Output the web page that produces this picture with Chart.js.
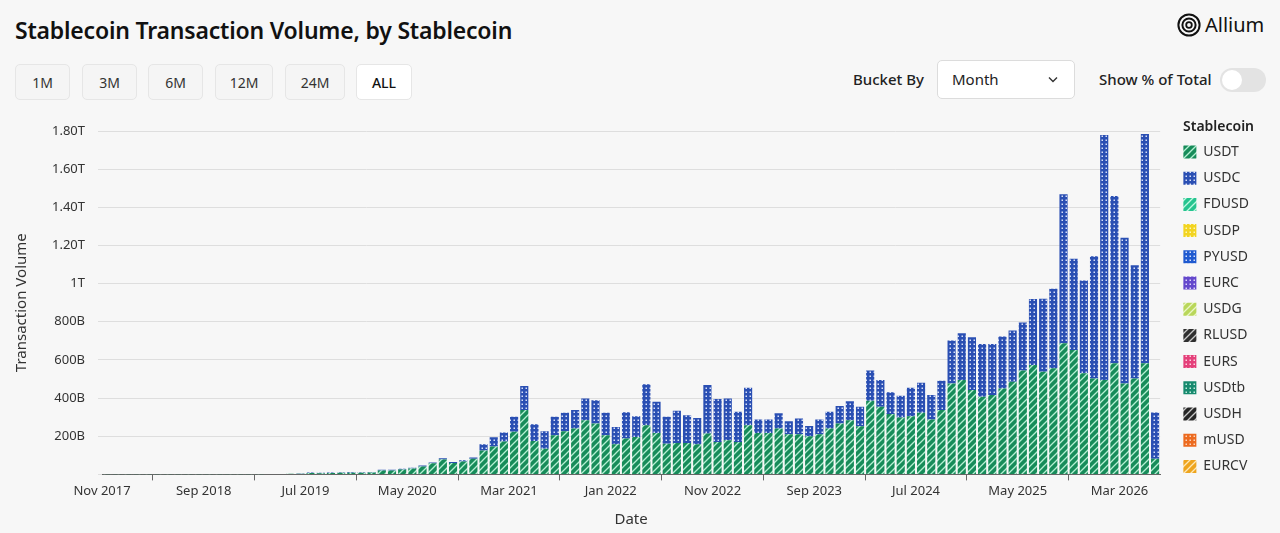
<!DOCTYPE html>
<html>
<head>
<meta charset="utf-8">
<script src="https://cdn.jsdelivr.net/npm/chart.js@4.4.1/dist/chart.umd.min.js"></script>
<style>
    body { margin: 0; background: #f7f7f7; font-family: "Noto Sans", sans-serif; color: #111; width: 1280px; height: 533px; overflow: hidden; position: relative; }
    .title { position: absolute; left: 15px; top: 14px; font-size: 23px; font-weight: 600; letter-spacing: -0.2px; }
    .btn { position: absolute; top: 64px; height: 36px; line-height: 36px; text-align: center; font-size: 14px; color: #333; background: #f5f5f5; border: 1px solid #e6e6e6; border-radius: 5px; box-sizing: border-box; }
    .btn.active { background: #fff; color: #111; font-weight: 500; }
    .logo { position: absolute; left: 1177px; top: 11px; display: flex; align-items: center; font-size: 20px; }
    .logo svg { margin-right: 4px; }
    .lbl { position: absolute; top: 69px; font-size: 15px; font-weight: 500; color: #222; }
    .select { position: absolute; left: 937px; top: 60px; width: 138px; height: 39px; background: #fff; border: 1px solid #dcdcdc; border-radius: 5px; box-sizing: border-box; font-size: 15px; line-height: 37px; padding-left: 14px; color: #222; }
    .select svg { position: absolute; right: 16px; top: 15px; }
    .toggle { position: absolute; left: 1220px; top: 68px; width: 46px; height: 24px; border-radius: 12px; background: #e3e3e3; }
    .toggle .knob { position: absolute; left: 2px; top: 2px; width: 20px; height: 20px; border-radius: 10px; background: #fff; }
    .legend-title { position: absolute; left: 1183px; top: 116px; font-size: 14px; font-weight: 600; color: #222; }
    #wrap { position: absolute; left: 0; top: 110px; width: 1280px; height: 423px; }
</style>
</head>
<body>
<div class="title">Stablecoin Transaction Volume, by Stablecoin</div>
<div class="btn" style="left:15px;width:55px">1M</div>
<div class="btn" style="left:82px;width:55px">3M</div>
<div class="btn" style="left:148px;width:55px">6M</div>
<div class="btn" style="left:215px;width:58px">12M</div>
<div class="btn" style="left:285px;width:60px">24M</div>
<div class="btn active" style="left:356px;width:56px">ALL</div>

<div class="logo">
    <svg width="24" height="24" viewBox="0 0 24 24">
        <circle cx="12" cy="12" r="10.6" fill="none" stroke="#111" stroke-width="2"/>
        <circle cx="12" cy="12" r="6.6" fill="none" stroke="#111" stroke-width="2"/>
        <circle cx="12" cy="12" r="2.8" fill="none" stroke="#111" stroke-width="1.8"/>
    </svg>Allium
</div>
<div class="lbl" style="left:853px">Bucket By</div>
<div class="select">Month
    <svg width="10" height="7" viewBox="0 0 10 7"><path d="M1 1.5 L5 5.5 L9 1.5" fill="none" stroke="#333" stroke-width="1.4"/></svg>
</div>
<div class="lbl" style="left:1099px">Show % of Total</div>
<div class="toggle"><div class="knob"></div></div>

<div id="wrap"><canvas id="myChart"></canvas></div>
<div class="legend-title">Stablecoin</div>

<script>
// one bar per month, Nov 2017 .. Jun 2026
const months = [
    'Nov 2017', 'Dec 2017',
    'Jan 2018', 'Feb 2018', 'Mar 2018', 'Apr 2018', 'May 2018', 'Jun 2018', 'Jul 2018', 'Aug 2018', 'Sep 2018', 'Oct 2018', 'Nov 2018', 'Dec 2018',
    'Jan 2019', 'Feb 2019', 'Mar 2019', 'Apr 2019', 'May 2019', 'Jun 2019', 'Jul 2019', 'Aug 2019', 'Sep 2019', 'Oct 2019', 'Nov 2019', 'Dec 2019',
    'Jan 2020', 'Feb 2020', 'Mar 2020', 'Apr 2020', 'May 2020', 'Jun 2020', 'Jul 2020', 'Aug 2020', 'Sep 2020', 'Oct 2020', 'Nov 2020', 'Dec 2020',
    'Jan 2021', 'Feb 2021', 'Mar 2021', 'Apr 2021', 'May 2021', 'Jun 2021', 'Jul 2021', 'Aug 2021', 'Sep 2021', 'Oct 2021', 'Nov 2021', 'Dec 2021',
    'Jan 2022', 'Feb 2022', 'Mar 2022', 'Apr 2022', 'May 2022', 'Jun 2022', 'Jul 2022', 'Aug 2022', 'Sep 2022', 'Oct 2022', 'Nov 2022', 'Dec 2022',
    'Jan 2023', 'Feb 2023', 'Mar 2023', 'Apr 2023', 'May 2023', 'Jun 2023', 'Jul 2023', 'Aug 2023', 'Sep 2023', 'Oct 2023', 'Nov 2023', 'Dec 2023',
    'Jan 2024', 'Feb 2024', 'Mar 2024', 'Apr 2024', 'May 2024', 'Jun 2024', 'Jul 2024', 'Aug 2024', 'Sep 2024', 'Oct 2024', 'Nov 2024', 'Dec 2024',
    'Jan 2025', 'Feb 2025', 'Mar 2025', 'Apr 2025', 'May 2025', 'Jun 2025', 'Jul 2025', 'Aug 2025', 'Sep 2025', 'Oct 2025', 'Nov 2025', 'Dec 2025',
    'Jan 2026', 'Feb 2026', 'Mar 2026', 'Apr 2026', 'May 2026', 'Jun 2026'
];

// billions of USD
const usdt = [
    0.3, 0.4,
    0.5, 0.4, 0.4, 0.4, 0.5, 0.5, 0.5, 0.6, 0.6, 0.8, 0.8, 0.8,
    1.0, 1.2, 1.5, 2.0, 3.0, 4.0, 7, 6, 7, 8, 9, 8,
    10, 20, 21, 26, 31, 42, 58, 78, 60, 68, 82, 125,
    146, 172, 223, 337, 175, 135, 205, 226, 240, 284, 267, 205,
    158, 188, 196, 258, 217, 161, 165, 165, 158, 214, 170, 179,
    170, 258, 217, 217, 240, 210, 210, 200, 210, 240, 267, 284,
    253, 386, 354, 316, 298, 305, 323, 288, 337, 477, 495, 442,
    407, 416, 450, 485, 544, 574, 538, 556, 688, 652, 530, 503,
    495, 582, 477, 503, 582, 82
];

const usdc = [
    0, 0,
    0, 0, 0, 0, 0, 0, 0, 0, 0, 0, 0, 0,
    0.1, 0.2, 0.3, 0.5, 0.6, 1.0, 3, 3, 3, 3, 3, 3,
    3, 5, 4, 4, 4, 4, 5, 6, 5, 6, 7, 33,
    49, 47, 79, 126, 88, 91, 97, 97, 97, 114, 122, 118,
    91, 138, 109, 214, 164, 141, 168, 145, 138, 254, 225, 219,
    158, 196, 71, 71, 81, 69, 83, 54, 78, 88, 91, 100,
    101, 158, 141, 114, 114, 149, 158, 128, 154, 225, 245, 277,
    277, 268, 273, 269, 252, 345, 383, 417, 780, 478, 487, 641,
    1284, 877, 763, 593, 1202, 242
];

// the smaller coins are too thin to show at this scale
const fdusd = [], usdp = [], pyusd = [], eurc = [], usdg = [], rlusd = [],
    eurs = [], usdtb = [], usdh = [], musd = [], eurcv = [];

const tickLabels = ['Nov 2017', 'Sep 2018', 'Jul 2019', 'May 2020', 'Mar 2021', 'Jan 2022',
    'Nov 2022', 'Sep 2023', 'Jul 2024', 'May 2025', 'Mar 2026'];

const makePattern = (base, kind, mark) => {
    let c = document.createElement('canvas');
    let g = c.getContext('2d');
    if (kind === 'stripe') {
        c.width = 7; c.height = 7;
        g.fillStyle = base;
        g.fillRect(0, 0, 7, 7);
        g.strokeStyle = mark;
        g.lineWidth = 1.3;
        g.beginPath();
        g.moveTo(0, 7); g.lineTo(7, 0);
        g.moveTo(-1, 1); g.lineTo(1, -1);
        g.moveTo(6, 8); g.lineTo(8, 6);
        g.stroke();
    }
    else {
        c.width = 4; c.height = 4;
        g.fillStyle = base;
        g.fillRect(0, 0, 4, 4);
        g.fillStyle = mark;
        g.fillRect(1.5, 1.5, 1.5, 1.5);
    }
    return g.createPattern(c, 'repeat');
}

// bar i sits in the middle of its month, ticks fall on month starts
const toPoints = arr => arr.map((v, i) => ({ x: i + 0.5, y: v }));

const series = [
    ['USDT', usdt, '#178c5a', 'stripe', 'rgba(190,245,218,0.95)'],
    ['USDC', usdc, '#2a4fb3', 'dot', 'rgba(235,240,255,0.9)'],
    ['FDUSD', fdusd, '#26c48f', 'stripe', 'rgba(210,255,235,0.9)'],
    ['USDP', usdp, '#f2d421', 'dot', 'rgba(255,250,200,0.9)'],
    ['PYUSD', pyusd, '#1f5ad0', 'dot', 'rgba(235,240,255,0.9)'],
    ['EURC', eurc, '#6448cc', 'dot', 'rgba(235,230,255,0.9)'],
    ['USDG', usdg, '#b9d75a', 'stripe', 'rgba(240,250,210,0.9)'],
    ['RLUSD', rlusd, '#2f2f2f', 'stripe', 'rgba(220,220,220,0.9)'],
    ['EURS', eurs, '#e4407a', 'dot', 'rgba(255,225,235,0.9)'],
    ['USDtb', usdtb, '#178a6e', 'dot', 'rgba(215,245,235,0.9)'],
    ['USDH', usdh, '#262626', 'stripe', 'rgba(220,220,220,0.9)'],
    ['mUSD', musd, '#ec6a1f', 'dot', 'rgba(255,225,205,0.9)'],
    ['EURCV', eurcv, '#eea51e', 'stripe', 'rgba(255,240,200,0.9)']
];

const data = {
    datasets: series.map(s => ({
        label: s[0],
        data: toPoints(s[1]),
        backgroundColor: makePattern(s[2], s[3], s[4]),
        borderWidth: 0,
        categoryPercentage: 1,
        barPercentage: 0.8
    }))
};

const fmtValue = v => {
    if (v === 0) return '';
    if (v >= 1000) return v === 1000 ? '1T' : (v / 1000).toFixed(2) + 'T';
    return v + 'B';
}

const font = size => ({ family: 'Noto Sans', size: size });

const config = {
    type: 'bar',
    data: data,
    options: {
        animation: false,
        responsive: true,
        maintainAspectRatio: false,
        layout: { padding: { left: 9, right: 21, top: 6, bottom: 4 } },
        plugins: {
            tooltip: { enabled: false },
            // empty title only reserves room above the plot
            title: { display: true, text: '', font: font(10), padding: { top: 3, bottom: 0 } },
            legend: {
                position: 'right',
                align: 'start',
                // blank legend title keeps the items below the html heading
                title: { display: true, text: '', font: font(14), padding: 0 },
                labels: {
                    boxWidth: 13,
                    boxHeight: 13,
                    padding: 12.2,
                    color: '#333',
                    font: font(14)
                }
            }
        },
        scales: {
            x: {
                type: 'linear',
                stacked: true,
                min: 0,
                max: 104,
                offset: false,
                grid: { display: true, drawOnChartArea: false, drawTicks: true, tickLength: 6, color: '#666' },
                border: { display: true, color: '#666' },
                ticks: {
                    stepSize: 10,
                    includeBounds: false,
                    autoSkip: false,
                    maxRotation: 0,
                    color: '#333',
                    font: font(13),
                    callback: v => tickLabels[v / 10]
                },
                title: { display: true, text: 'Date', color: '#333', font: font(15), padding: { top: 9, bottom: 0 } }
            },
            y: {
                stacked: true,
                min: 0,
                max: 1800,
                grid: { color: '#dedede', tickLength: 4 },
                border: { display: false },
                ticks: {
                    stepSize: 200,
                    padding: 13,
                    color: '#333',
                    font: font(13),
                    callback: fmtValue
                },
                title: { display: true, text: 'Transaction Volume', color: '#333', font: font(15), padding: { top: 4, bottom: 8 } }
            },
            // invisible spacer between the plot and the legend
            gap: {
                position: 'right',
                grid: { display: false },
                border: { display: false },
                ticks: { display: false },
                afterFit: s => { s.width = 11; }
            }
        }
    }
};

var myChart = new Chart(document.getElementById('myChart'), config);
</script>
</body>
</html>
